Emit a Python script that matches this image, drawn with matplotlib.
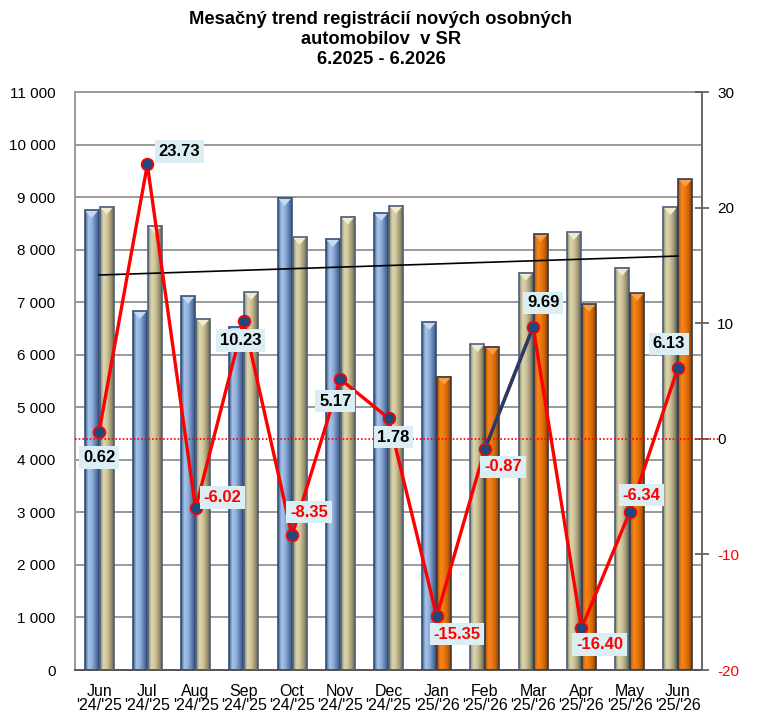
import matplotlib
matplotlib.use("Agg")
import matplotlib.pyplot as plt
import numpy as np
from matplotlib.colors import LinearSegmentedColormap
from matplotlib.patches import Rectangle, Polygon

months = ["Jun\n'24/'25", "Jul\n'24/'25", "Aug\n'24/'25", "Sep\n'24/'25", "Oct\n'24/'25",
          "Nov\n'24/'25", "Dec\n'24/'25", "Jan\n'25/'26", "Feb\n'25/'26", "Mar\n'25/'26",
          "Apr\n'25/'26", "May\n'25/'26", "Jun\n'25/'26"]
prev_year = [8753, 6831, 7117, 6533, 8982, 8200, 8695, 6622, 6204, 7560, 8335, 7656, 8810]
curr_year = [8817, 8456, 6686, 7193, 8240, 8627, 8836, 5582, 6153, 8297, 6965, 7174, 9343]
prev_style = ["blue"] * 8 + ["tan"] * 5
curr_style = ["tan"] * 7 + ["orange"] * 6
pct_change = [0.62, 23.73, -6.02, 10.23, -8.35, 5.17, 1.78, -15.35, -0.87, 9.69, -16.40, -6.34, 6.13]
trend_ends = [7517, 7878]
label_offsets = [(0, -26), (32, 13), (27, 11), (-3, -20), (17, 23), (-5, -22), (5, -19),
                 (20, -18), (18, -18), (10, 24), (18, -16), (12, 17), (-9, 24)]

plt.rcParams['font.family'] = ['Liberation Sans', 'DejaVu Sans']

cmaps = {
    "blue": LinearSegmentedColormap.from_list("b", ["#3E5C88", "#A9C5EB", "#93B1DC", "#6584B4", "#3A5580"]),
    "tan": LinearSegmentedColormap.from_list("t", ["#8F8764", "#DDD5AE", "#CFC69D", "#A79E78", "#6E6748"]),
    "orange": LinearSegmentedColormap.from_list("o", ["#B65300", "#F5861E", "#EE7A0E", "#D06505", "#8A3E00"]),
}
caps = {"blue": "#C6DAF5", "tan": "#F1EBCF", "orange": "#F7A04A"}
edges = {"blue": "#34507A", "tan": "#4B6083", "orange": "#3A3A44"}

fig = plt.figure(figsize=(7.6, 7.15), dpi=100)
ax = fig.add_axes([75/760, 45/715, 627/760, 578/715])
ax.set_xlim(-0.5, 12.5)
ax.set_ylim(0, 11000)

ax.set_yticks(np.arange(0, 11001, 1000))
ax.set_yticklabels([f"{v:,}".replace(",", " ") for v in range(0, 11001, 1000)], fontsize=11)
ax.yaxis.grid(True, color="#9A9A9A", linewidth=1.4, zorder=0)
ax.set_axisbelow(True)
ax.tick_params(axis='y', length=0, pad=14)
ax.set_xticks(range(13))
ax.set_xticklabels(months, fontsize=11.5, linespacing=0.95)
ax.tick_params(axis='x', length=0, pad=10)
for s in ["left", "top"]:
    ax.spines[s].set_color("#9A9A9A")
    ax.spines[s].set_linewidth(1.4)
ax.spines["bottom"].set_color("#555555")
ax.spines["bottom"].set_linewidth(1.4)
ax.spines["right"].set_visible(False)

grad = np.linspace(0, 1, 64).reshape(1, -1)
w = 0.29
cap_h = 150

def draw_bar(xc, h, style):
    x0, x1 = xc - w/2, xc + w/2
    ax.imshow(grad, cmap=cmaps[style], extent=(x0, x1, 0, h), aspect='auto', zorder=2, interpolation='bilinear')
    ax.add_patch(Polygon([(x0, h), (x1, h), (xc, h - cap_h)], closed=True,
                         facecolor=caps[style], edgecolor='none', zorder=3))
    ax.add_patch(Rectangle((x0, 0), w, h, fill=False, edgecolor=edges[style], linewidth=1.2, zorder=4))

for i in range(13):
    draw_bar(i - 0.155, prev_year[i], prev_style[i])
    draw_bar(i + 0.155, curr_year[i], curr_style[i])

ax.set_xlim(-0.5, 12.5)
ax.set_ylim(0, 11000)

ax.plot([0, 12], trend_ends, color="black", linewidth=1.2, zorder=5)

ax2 = ax.twinx()
ax2.set_ylim(-20, 30)
ax2.set_yticks([-20, -10, 0, 10, 20, 30])
ax2.set_yticklabels(["-20", "-10", "0", "10", "20", "30"], fontsize=11)
for lbl, v in zip(ax2.get_yticklabels(), [-20, -10, 0, 10, 20, 30]):
    lbl.set_color("#FF0000" if v < 0 else "black")
ax2.tick_params(axis='y', direction='inout', length=10, width=1.2, color="#555555", pad=6)
for s in ["left", "top", "bottom"]:
    ax2.spines[s].set_visible(False)
ax2.spines["right"].set_color("#666666")
ax2.spines["right"].set_linewidth(1.4)

ax2.plot([-0.5, 12.85], [0, 0], color="#FF0000", linestyle=(0, (1, 1.2)), linewidth=1.2,
         zorder=3, clip_on=False)

x = np.arange(13)
ax2.plot(x, pct_change, color="#FF0000", linewidth=2.4, zorder=5, solid_joinstyle='miter')
ax2.plot(x[8:10], pct_change[8:10], color="#1F3F6F", linewidth=2.4, zorder=6)
ax2.plot(x, pct_change, linestyle='none', marker='o', markersize=8.5,
         markerfacecolor="#1F497D", markeredgecolor="#FF0000", markeredgewidth=1.2, zorder=7)

for i, v in enumerate(pct_change):
    ax2.annotate(f"{v:.2f}", xy=(i, v), xytext=label_offsets[i], textcoords='offset pixels',
                 ha='center', va='center', fontsize=12, fontweight='bold',
                 color="#FF0000" if v < 0 else "black",
                 bbox=dict(boxstyle='square,pad=0.22', facecolor="#DAEEF3", edgecolor='none'),
                 zorder=8)

title_family = ['Liberation Sans Narrow', 'Liberation Sans', 'DejaVu Sans']
for yy, t in zip([20, 40, 60], ["Mesačný trend registrácií nových osobných", "automobilov  v SR", "6.2025 - 6.2026"]):
    fig.text(381/760, 1 - yy/715, t, ha='center', va='center', fontsize=13.2,
             fontweight='bold', family=title_family)

fig.savefig("out.png", dpi=100)
